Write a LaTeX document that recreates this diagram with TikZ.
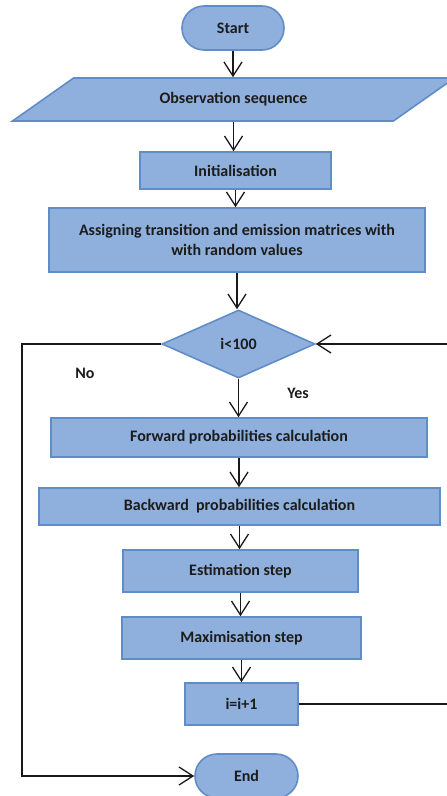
\documentclass[tikz,border=0pt]{standalone}
\usepackage{fontspec}
\setmainfont{Carlito}
\usetikzlibrary{arrows.meta}
\usetikzlibrary{shapes.geometric}
\usetikzlibrary{shapes.misc}

\definecolor{boxfill}{RGB}{143,176,220}
\definecolor{boxline}{RGB}{96,140,200}
\definecolor{inktext}{RGB}{28,28,28}

\begin{document}
\begin{tikzpicture}[x=1pt, y=-1pt,
        every node/.style={font=\bfseries\fontsize{16}{20}\selectfont, text=inktext},
        stepbox/.style={draw=boxline, line width=1.6pt, fill=boxfill, rectangle, inner sep=0pt},
        termbox/.style={stepbox, rounded rectangle},
        flow/.style={-{Straight Barb[length=14pt,width=18pt]}, line width=1.3pt, black!90}]
        \useasboundingbox (0,0) rectangle (447,796);

        \node[termbox, minimum width=102pt, minimum height=44pt] (start) at (233,28) {Start};
        \node[stepbox, trapezium, trapezium left angle=26, trapezium right angle=154, trapezium stretches,
              minimum width=443pt, minimum height=43pt] (obs) at (233.5,99.5) {Observation sequence};
        \node[stepbox, minimum width=191pt, minimum height=37pt] (init) at (235.5,170.5) {Initialisation};
        \node[stepbox, align=center, minimum width=376pt, minimum height=64pt] (assign) at (237,240)
             {Assigning transition and emission matrices with\\with random values};
        \node[stepbox, diamond, minimum width=153pt, minimum height=68pt] (test) at (238.5,344) {i<100};
        \node[stepbox, minimum width=376pt, minimum height=39pt] (forward) at (239,437.5) {Forward probabilities calculation};
        \node[stepbox, minimum width=401pt, minimum height=37pt] (backward) at (239.5,506.5) {Backward\ \ probabilities calculation};
        \node[stepbox, minimum width=235pt, minimum height=42pt] (estim) at (240.5,571) {Estimation step};
        \node[stepbox, minimum width=239pt, minimum height=42pt] (maxim) at (241.5,638) {Maximisation step};
        \node[stepbox, minimum width=113pt, minimum height=42pt] (incr) at (241.5,704) {i=i+1};
        \node[termbox, minimum width=103pt, minimum height=44pt] (finish) at (246.5,776) {End};

        \node (no) at (85,373) {No};
        \node (yes) at (298,393) {Yes};

        \coordinate (nocorner) at (22,344);
        \coordinate (backcorner) at (462,704);

        \draw[flow] (start.south) -- (start.south |- obs.north);
        \draw[flow] (obs.south) -- (obs.south |- init.north);
        \draw[flow] (init.south) -- (init.south |- assign.north);
        \draw[flow] (assign.south) -- (assign.south |- test.north);
        \draw[flow] (test.south) -- (test.south |- forward.north);
        \draw[flow] (forward.south) -- (forward.south |- backward.north);
        \draw[flow] (backward.south) -- (backward.south |- estim.north);
        \draw[flow] (estim.south) -- (estim.south |- maxim.north);
        \draw[flow] (maxim.south) -- (maxim.south |- incr.north);
        \draw[flow] (test.west) -- (nocorner) |- (finish.west);
        \draw[flow] (incr.east) -- (backcorner) |- (test.east);
    \end{tikzpicture}
\end{document}
